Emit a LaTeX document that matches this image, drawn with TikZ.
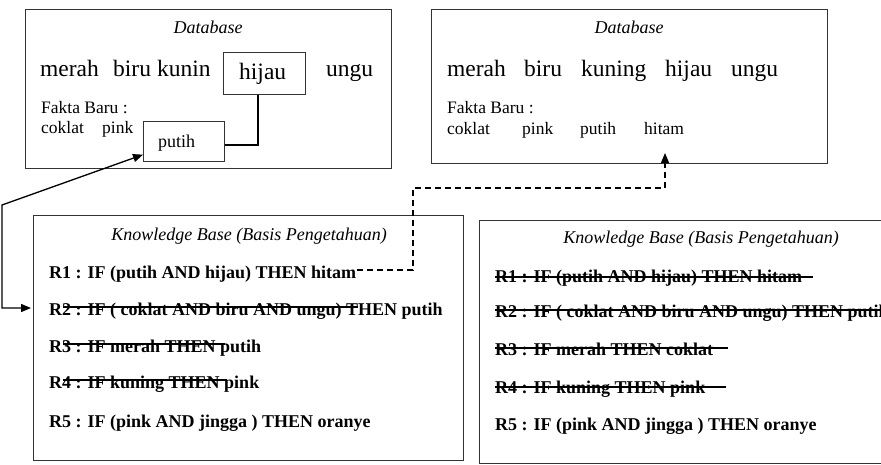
\documentclass[tikz,border=0pt]{standalone}
\usepackage{fontspec}
\setmainfont{Liberation Serif}
\usetikzlibrary{arrows.meta}
\begin{document}
\begin{tikzpicture}[x=1pt,y=-1pt,
 box/.style={draw=black!80,line width=1.3pt,inner sep=0,anchor=north west},
 big/.style={font=\fontsize{23.5}{26}\selectfont,inner sep=0,anchor=base west},
 sm/.style={font=\fontsize{17.5}{20}\selectfont,inner sep=0,anchor=base west},
 ttl/.style={font=\fontsize{18}{20}\selectfont\itshape,inner sep=0,anchor=base},
 rulel/.style={font=\fontsize{18}{20}\selectfont\bfseries,inner sep=0,anchor=base west},
 strike/.style={line width=1.3pt},
 conn/.style={line width=1.3pt},
 tri/.tip={Triangle[length=10pt,width=8pt]}]
\useasboundingbox (0,0) rectangle (881,464);
\clip (0,0) rectangle (881,464);

% ---------- Database 1
\node[box,minimum width=366pt,minimum height=159pt] (db1) at (25,9) {};
\node[ttl] (t1) at (208,33) {Database};
\node[big] (a1) at (40,76) {merah};
\node[big] (a2) at (113,76) {biru};
\node[big] (a3) at (157,76) {kunin};
\node[big] (a5) at (326,76) {ungu};
\node[box,minimum width=82pt,minimum height=42pt] (hb) at (223,52) {};
\node[big] (a4) at (239,79) {hijau};
\node[sm] (f1) at (41,113) {Fakta Baru :};
\node[sm] (b1) at (41,133) {coklat};
\node[sm] (b2) at (102,133) {pink};
\node[box,minimum width=81pt,minimum height=40pt] (pb) at (143,121) {};
\node[sm,font=\fontsize{18}{20}\selectfont] (b3) at (158,147) {putih};
\coordinate (k) at (258,145);
\draw[conn] (k |- hb.south) -- (k) -- (k -| pb.east);

% ---------- Database 2
\node[box,minimum width=396pt,minimum height=154pt] (db2) at (431,9) {};
\node[ttl] (t2) at (629,33) {Database};
\node[big] (c1) at (447,76) {merah};
\node[big] (c2) at (524,76) {biru};
\node[big] (c3) at (581,76) {kuning};
\node[big] (c4) at (665,76) {hijau};
\node[big] (c5) at (731,76) {ungu};
\node[sm] (f2) at (447,113) {Fakta Baru :};
\node[sm] (e1) at (447,134) {coklat};
\node[sm] (e2) at (522,134) {pink};
\node[sm] (e3) at (580,134) {putih};
\node[sm] (e4) at (644,134) {hitam};

% ---------- Knowledge base 1
\node[box,minimum width=430pt,minimum height=245pt] (kb1) at (33,215) {};
\node[ttl] (kt1) at (249,240) {Knowledge Base (Basis Pengetahuan)};
\node[rulel] (ra1) at (49,278) {R1 : IF (putih AND hijau) THEN hitam};
\node[rulel] (ra2) at (49,315) {R2 : IF ( coklat AND biru AND ungu) THEN putih};
\node[rulel] (ra3) at (49,352) {R3 : IF merah THEN putih};
\node[rulel] (ra4) at (49,388) {R4 : IF kuning THEN pink};
\node[rulel] (ra5) at (49,427) {R5 : IF (pink AND jingga ) THEN oranye};
\draw[strike] (63,307) -- (358,307);
\draw[strike] (63,344) -- (225,344);
\draw[strike] (63,380) -- (227,380);

% ---------- Knowledge base 2
\node[box,minimum width=430pt,minimum height=243pt] (kb2) at (479,220) {};
\node[ttl] (kt2) at (701,243) {Knowledge Base (Basis Pengetahuan)};
\node[rulel] (rb1) at (495,282) {R1 : IF (putih AND hijau) THEN hitam};
\node[rulel] (rb2) at (495,317) {R2 : IF ( coklat AND biru AND ungu) THEN putih};
\node[rulel] (rb3) at (495,355) {R3 : IF merah THEN coklat};
\node[rulel] (rb4) at (495,393) {R4 : IF kuning THEN pink};
\node[rulel] (rb5) at (495,430) {R5 : IF (pink AND jingga ) THEN oranye};
\draw[strike] (495,277) -- (813,277);
\draw[strike] (495,310) -- (890,310);
\draw[strike] (495,348) -- (728,348);
\draw[strike] (495,387) -- (726,387);

% ---------- connectors
\coordinate (d1) at (413,270);
\coordinate (d2) at (413,188);
\coordinate (d3) at (665,188);
\coordinate (d4) at (665,153);
\draw[conn,line width=1.1pt,dash pattern=on 6pt off 4pt,-tri]
  ([xshift=1pt]ra1.east |- d1) -- (d1) -- (d2) -- (d3) -- (d4);

\coordinate (pa) at ([yshift=-13pt]pb.west);
\coordinate (l1) at (2,205);
\coordinate (l2) at (2,308);
\coordinate (l3) at ([xshift=-2pt]kb1.west |- l2);
\draw[conn,tri-tri] (pa) -- (l1) -- (l2) -- (l3);
\end{tikzpicture}
\end{document}
